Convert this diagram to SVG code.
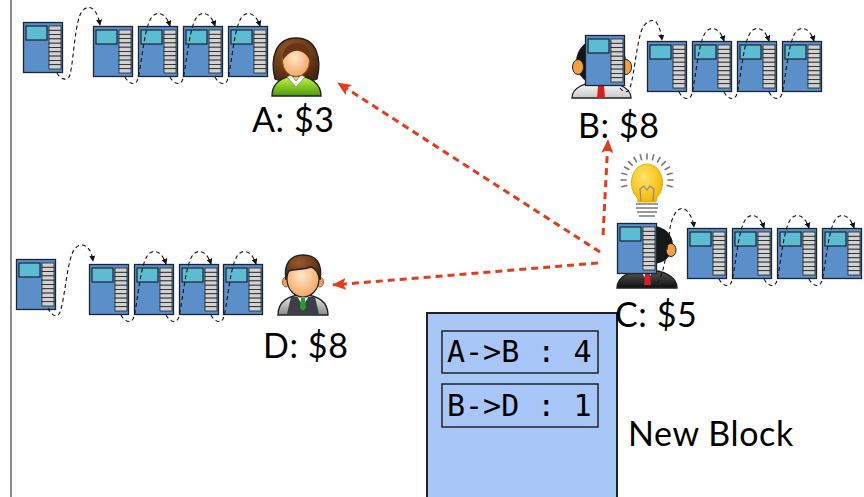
<svg xmlns="http://www.w3.org/2000/svg" width="864" height="497" viewBox="0 0 864 497">
  <style>
    .body { fill: #5b8fc9; stroke: #1c2633; stroke-width: 1.3; }
    .scr { fill: #5cbcd2; stroke: #1c2633; stroke-width: 1.2; }
    .bar { fill: #d2d2d2; stroke: #222; stroke-width: 0.8; }
    .lnk { fill: none; stroke: #111; stroke-width: 1.1; stroke-dasharray: 4 3; marker-end: url(#tip); }
    .pay { fill: none; stroke: #e53a1c; stroke-width: 3; stroke-dasharray: 7 5; marker-end: url(#redtip); }
    .lbl { font-family: Lato, "Open Sans", "Liberation Sans", sans-serif; font-size: 34px; letter-spacing: 0.6px; fill: #000; }
    .tx { font-family: "DejaVu Sans Mono", "Liberation Mono", monospace; font-size: 30px; fill: #000; }
    .ol { stroke: #222; stroke-width: 1.4; }
    .ray { stroke: #777; stroke-width: 1.6; stroke-linecap: round; }
  </style>
  <defs>
    <marker id="tip" viewBox="0 0 8 8" refX="7" refY="4" markerWidth="6" markerHeight="6" markerUnits="userSpaceOnUse" orient="auto">
      <path d="M0,0 L8,4 L0,8 Z" fill="#111"/>
    </marker>
    <marker id="redtip" viewBox="0 0 14 12" refX="13" refY="6" markerWidth="14" markerHeight="12" markerUnits="userSpaceOnUse" orient="auto">
      <path d="M0,0 L14,6 L0,12 L3,6 Z" fill="#e53a1c"/>
    </marker>
    <!-- a block: body, header screen and a column of transaction slots -->
    <g id="blk">
      <rect class="body" x="0.5" y="0.5" width="39" height="50"/>
      <rect class="scr" x="3" y="4" width="21" height="14"/>
      <rect class="bar" x="26" y="4" width="12" height="4.3"/>
      <rect class="bar" x="26" y="8.3" width="12" height="4.3"/>
      <rect class="bar" x="26" y="12.6" width="12" height="4.3"/>
      <rect class="bar" x="26" y="16.9" width="12" height="4.3"/>
      <rect class="bar" x="26" y="21.2" width="12" height="4.3"/>
      <rect class="bar" x="26" y="25.5" width="12" height="4.3"/>
      <rect class="bar" x="26" y="29.8" width="12" height="4.3"/>
      <rect class="bar" x="26" y="34.1" width="12" height="4.3"/>
      <rect class="bar" x="26" y="38.4" width="12" height="4.3"/>
      <rect class="bar" x="26" y="42.7" width="12" height="4.3"/>
    </g>
    <radialGradient id="skin" cx="0.45" cy="0.4" r="0.65">
      <stop offset="0" stop-color="#ffe6c8"/>
      <stop offset="1" stop-color="#f3a25e"/>
    </radialGradient>
    <radialGradient id="brownHair" cx="0.4" cy="0.3" r="0.75">
      <stop offset="0" stop-color="#9a5a2a"/>
      <stop offset="1" stop-color="#4a240c"/>
    </radialGradient>
    <linearGradient id="green" x1="0" y1="0" x2="0" y2="1">
      <stop offset="0" stop-color="#ccf550"/>
      <stop offset="1" stop-color="#4a9c06"/>
    </linearGradient>
    <linearGradient id="grey" x1="0" y1="0" x2="0" y2="1">
      <stop offset="0" stop-color="#eeeeee"/>
      <stop offset="1" stop-color="#8a8a8a"/>
    </linearGradient>
    <linearGradient id="white" x1="0" y1="0" x2="0" y2="1">
      <stop offset="0" stop-color="#ffffff"/>
      <stop offset="1" stop-color="#c8c8c8"/>
    </linearGradient>
    <linearGradient id="suit" x1="0" y1="0" x2="0" y2="1">
      <stop offset="0" stop-color="#5a5a5a"/>
      <stop offset="1" stop-color="#101010"/>
    </linearGradient>
    <radialGradient id="bulb" cx="0.4" cy="0.35" r="0.7">
      <stop offset="0" stop-color="#ffe46a"/>
      <stop offset="1" stop-color="#f2b500"/>
    </radialGradient>
  </defs>

  <!-- left margin rule -->
  <line x1="11" y1="0" x2="11" y2="497" stroke="#8c8c8c" stroke-width="2"/>

  <!-- chain held by A -->
  <g id="chainA">
    <use href="#blk" x="23" y="22"/>
    <use href="#blk" x="93" y="26"/>
    <use href="#blk" x="138" y="26"/>
    <use href="#blk" x="183" y="26"/>
    <use href="#blk" x="228" y="26"/>
  </g>

  <!-- chain held by D -->
  <g id="chainD">
    <use href="#blk" x="16" y="259"/>
    <use href="#blk" x="89" y="264"/>
    <use href="#blk" x="134" y="264"/>
    <use href="#blk" x="179" y="264"/>
    <use href="#blk" x="223" y="264"/>
  </g>

  <!-- chain held by B -->
  <g id="chainB">
    <use href="#blk" x="647" y="41"/>
    <use href="#blk" x="692" y="41"/>
    <use href="#blk" x="737" y="41"/>
    <use href="#blk" x="782" y="41"/>
  </g>

  <!-- chain held by C -->
  <g id="chainC">
    <use href="#blk" x="687" y="228"/>
    <use href="#blk" x="732" y="228"/>
    <use href="#blk" x="777" y="228"/>
    <use href="#blk" x="822" y="228"/>
  </g>

  <!-- person A -->
  <g id="personA">
    <path class="ol" d="M275,79 C270,59 275,38 296,38 C317,38 322,59 317,79 C310,83 282,83 275,79 Z" fill="url(#brownHair)"/>
    <path class="ol" d="M272,96 C272,84 281,76 296,76 C311,76 321,84 321,96 Z" fill="url(#green)"/>
    <path d="M287,77 L296,87 L305,77 L301,75 L296,81 L291,75 Z" fill="#fff" stroke="#666" stroke-width="0.6"/>
    <ellipse cx="296" cy="61" rx="13.5" ry="15.5" fill="url(#skin)" stroke="#8a4a1a" stroke-width="0.8"/>
    <path d="M283,60 C282,47 289,43 298,43 C306,43 311,49 310,60 C305,52 298,48 290,53 C287,55 285,57 283,60 Z" fill="#6a3514"/>
  </g>

  <!-- person D -->
  <g id="personD">
    <path class="ol" d="M278,315 C278,302 288,295 303,295 C318,295 328,302 328,315 Z" fill="url(#grey)"/>
    <path d="M291,297 L315,297 L319,314 L287,314 Z" fill="#3a4046"/>
    <path d="M297,296 L303,306 L309,296 Z" fill="#fff"/>
    <path d="M301,298 L305,298 L306,308 L303,311 L300,308 Z" fill="#2e9a2e"/>
    <ellipse cx="286" cy="282" rx="3.5" ry="5" fill="#f3a25e" stroke="#8a4a1a" stroke-width="0.8"/>
    <ellipse cx="320" cy="282" rx="3.5" ry="5" fill="#f3a25e" stroke="#8a4a1a" stroke-width="0.8"/>
    <ellipse cx="303" cy="279" rx="16" ry="18" fill="url(#skin)" stroke="#222" stroke-width="1.2"/>
    <path class="ol" d="M286,280 C283,262 292,255 303,255 C315,255 323,262 320,280 C318,272 315,268 311,267 C303,270 293,269 289,271 C287,273 286,276 286,280 Z" fill="url(#brownHair)"/>
  </g>

  <!-- person B, hidden behind its newest block -->
  <g id="personB">
    <ellipse cx="601" cy="62" rx="25" ry="24" fill="#151515"/>
    <ellipse cx="578" cy="67" rx="5.5" ry="7.5" fill="#f4a040" stroke="#222" stroke-width="1"/>
    <ellipse cx="626" cy="67" rx="5.5" ry="7.5" fill="#f4a040" stroke="#222" stroke-width="1"/>
    <path class="ol" d="M572,98 C572,88 584,82 601,82 C618,82 631,88 631,98 Z" fill="url(#white)"/>
    <path d="M598,86 L604,86 L605,98 L597,98 Z" fill="#d42020"/>
    <use href="#blk" x="585" y="35"/>
  </g>

  <!-- person C with the idea bulb -->
  <g id="personC">
    <g>
      <line class="ray" x1="647" y1="154" x2="647" y2="159" transform="rotate(-105 647 180)"/>
      <line class="ray" x1="647" y1="154" x2="647" y2="159" transform="rotate(-90 647 180)"/>
      <line class="ray" x1="647" y1="154" x2="647" y2="159" transform="rotate(-75 647 180)"/>
      <line class="ray" x1="647" y1="154" x2="647" y2="159" transform="rotate(-60 647 180)"/>
      <line class="ray" x1="647" y1="154" x2="647" y2="159" transform="rotate(-45 647 180)"/>
      <line class="ray" x1="647" y1="154" x2="647" y2="159" transform="rotate(-30 647 180)"/>
      <line class="ray" x1="647" y1="154" x2="647" y2="159" transform="rotate(-15 647 180)"/>
      <line class="ray" x1="647" y1="154" x2="647" y2="159"/>
      <line class="ray" x1="647" y1="154" x2="647" y2="159" transform="rotate(15 647 180)"/>
      <line class="ray" x1="647" y1="154" x2="647" y2="159" transform="rotate(30 647 180)"/>
      <line class="ray" x1="647" y1="154" x2="647" y2="159" transform="rotate(45 647 180)"/>
      <line class="ray" x1="647" y1="154" x2="647" y2="159" transform="rotate(60 647 180)"/>
      <line class="ray" x1="647" y1="154" x2="647" y2="159" transform="rotate(75 647 180)"/>
      <line class="ray" x1="647" y1="154" x2="647" y2="159" transform="rotate(90 647 180)"/>
      <line class="ray" x1="647" y1="154" x2="647" y2="159" transform="rotate(105 647 180)"/>
      <path d="M637,197 C628,190 629,165 647,164 C665,165 666,190 657,197 L656,202 L638,202 Z" fill="url(#bulb)" stroke="#d9a400" stroke-width="0.8"/>
      <path d="M641,201 L640,189 L644,186 L647,190 L650,186 L654,189 L653,201" fill="none" stroke="#8a8a8a" stroke-width="1.2"/>
      <g stroke="#9a9a9a" stroke-width="2">
        <line x1="636" y1="204" x2="658" y2="204"/>
        <line x1="636" y1="208" x2="658" y2="208"/>
        <line x1="637" y1="212" x2="657" y2="212"/>
        <line x1="639" y1="216" x2="655" y2="216"/>
      </g>
    </g>
    <ellipse cx="653" cy="245" rx="20" ry="19" fill="#181818"/>
    <ellipse cx="671" cy="250" rx="5" ry="6.5" fill="#f4a040" stroke="#222" stroke-width="1"/>
    <path class="ol" d="M617,288 C617,277 630,270 647,270 C664,270 677,277 677,288 Z" fill="url(#suit)"/>
    <path d="M641,271 L647,281 L653,271 Z" fill="#fff"/>
    <path d="M645,274 L650,274 L651,285 L644,285 Z" fill="#d42020"/>
    <use href="#blk" x="617" y="223"/>
  </g>

  <!-- chain links between consecutive blocks -->
  <g id="links">
    <path class="lnk" d="M57,73 C60,79 66,81 69,77 C73,70 74,30 80,15 C84,5 96,2 100,25"/>
    <path class="lnk" transform="translate(93,26)" d="M32,51 C35,57 41,60 44,55 C48,47 50,8 57,-6 C61,-15 72,-16 77,0"/>
    <path class="lnk" transform="translate(138,26)" d="M32,51 C35,57 41,60 44,55 C48,47 50,8 57,-6 C61,-15 72,-16 77,0"/>
    <path class="lnk" transform="translate(183,26)" d="M32,51 C35,57 41,60 44,55 C48,47 50,8 57,-6 C61,-15 72,-16 77,0"/>

    <path class="lnk" d="M48,308 C51,315 56,318 59,314 C64,306 66,270 72,254 C76,242 90,240 93,261"/>
    <path class="lnk" transform="translate(89,264)" d="M32,51 C35,57 41,60 44,55 C48,47 50,8 57,-6 C61,-15 72,-16 77,0"/>
    <path class="lnk" transform="translate(134,264)" d="M32,51 C35,57 41,60 44,55 C48,47 50,8 57,-6 C61,-15 72,-16 77,0"/>
    <path class="lnk" transform="translate(179,264)" d="M32,51 C35,57 41,60 44,55 C48,47 50,8 57,-6 C61,-15 72,-16 77,0"/>

    <path class="lnk" d="M620,88 C623,92 627,93 629,90 C633,84 636,48 641,32 C644,22 652,18 656,22 C659,26 661,32 662,40"/>
    <path class="lnk" transform="translate(647,41)" d="M32,51 C35,57 41,60 44,55 C48,47 50,8 57,-6 C61,-15 72,-16 77,0"/>
    <path class="lnk" transform="translate(692,41)" d="M32,51 C35,57 41,60 44,55 C48,47 50,8 57,-6 C61,-15 72,-16 77,0"/>
    <path class="lnk" transform="translate(737,41)" d="M32,51 C35,57 41,60 44,55 C48,47 50,8 57,-6 C61,-15 72,-16 77,0"/>

    <path class="lnk" d="M657,283 C664,275 667,250 670,228 C673,212 680,205 686,210 C690,214 693,219 694,227"/>
    <path class="lnk" transform="translate(687,228)" d="M32,51 C35,57 41,60 44,55 C48,47 50,8 57,-6 C61,-15 72,-16 77,0"/>
    <path class="lnk" transform="translate(732,228)" d="M32,51 C35,57 41,60 44,55 C48,47 50,8 57,-6 C61,-15 72,-16 77,0"/>
    <path class="lnk" transform="translate(777,228)" d="M32,51 C35,57 41,60 44,55 C48,47 50,8 57,-6 C61,-15 72,-16 77,0"/>
  </g>

  <!-- payments broadcast by C -->
  <g id="payments">
    <line class="pay" x1="600" y1="252" x2="338" y2="83"/>
    <line class="pay" x1="598" y1="263" x2="333" y2="285"/>
    <line class="pay" x1="603" y1="235" x2="608" y2="140"/>
  </g>

  <!-- the new block with its two transactions -->
  <g id="newBlock">
    <rect x="427" y="313" width="190" height="190" fill="#a8c6f8" stroke="#222" stroke-width="2"/>
    <rect x="442" y="331" width="156" height="42" fill="none" stroke="#222" stroke-width="1.5"/>
    <rect x="442" y="384" width="156" height="43" fill="none" stroke="#222" stroke-width="1.5"/>
    <text class="tx" x="447" y="362">A-&gt;B : 4</text>
    <text class="tx" x="447" y="416">B-&gt;D : 1</text>
  </g>

  <!-- balances -->
  <g id="labels">
    <text class="lbl" x="252" y="132">A: $3</text>
    <text class="lbl" x="578" y="138">B: $8</text>
    <text class="lbl" x="615" y="327">C: $5</text>
    <text class="lbl" x="263" y="358">D: $8</text>
    <text class="lbl" x="628" y="446">New Block</text>
  </g>
</svg>
